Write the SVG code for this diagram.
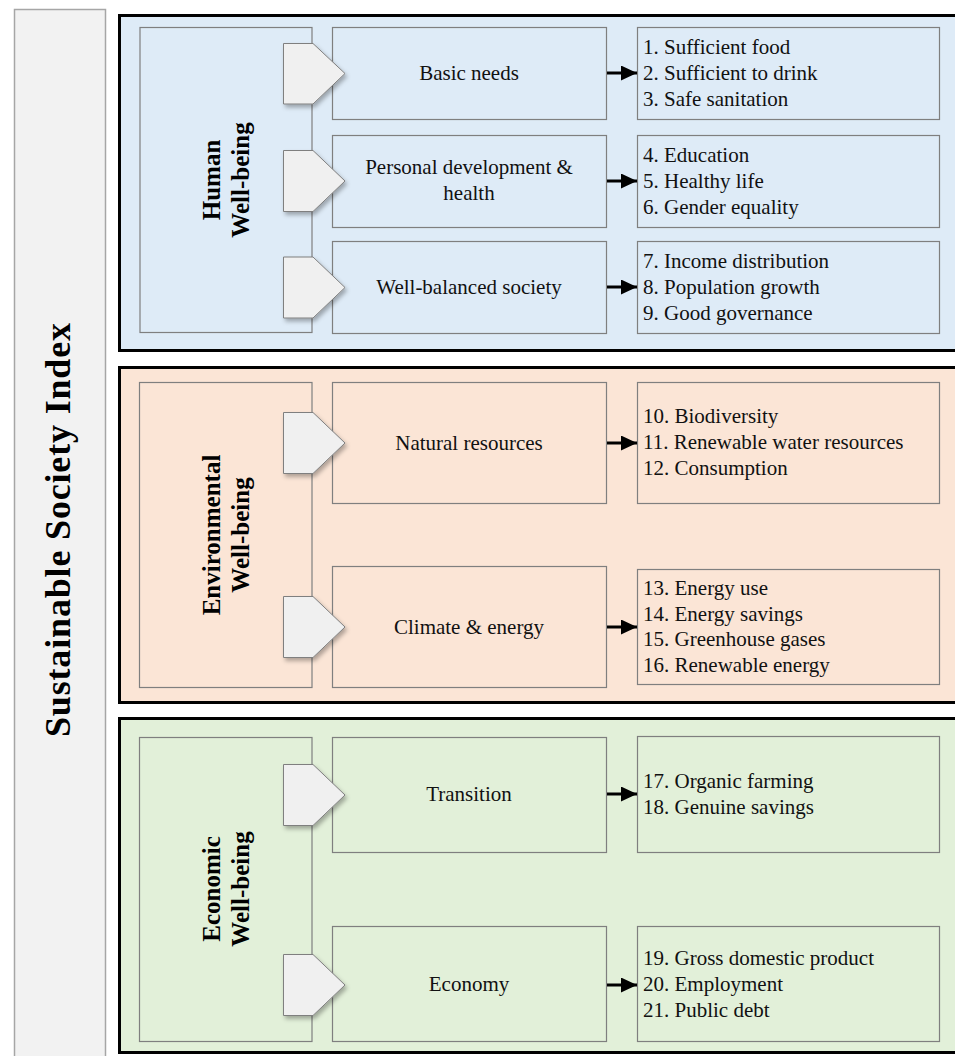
<svg xmlns="http://www.w3.org/2000/svg" width="955" height="1056" viewBox="0 0 955 1056">
<style>
.panel{stroke:#000;stroke-width:3}
.blue{fill:#deebf7}
.orange{fill:#fbe5d6}
.green{fill:#e2f0d9}
.box{fill:none;stroke:#7f7f7f;stroke-width:1.2}
.pent{fill:#f0f0f0;stroke:#7f7f7f;stroke-width:1;filter:url(#sh)}
.t{font-family:"Liberation Serif","Times New Roman",serif;font-size:21px;fill:#111}
.c{text-anchor:middle}
.b{font-family:"Liberation Serif","Times New Roman",serif;font-weight:bold;font-size:25px;fill:#000;text-anchor:middle}
.conn{stroke:#000;stroke-width:3;fill:none}
</style>
<defs>
<filter id="sh" x="-20%" y="-20%" width="150%" height="150%">
<feDropShadow dx="2" dy="3" stdDeviation="2" flood-color="#000" flood-opacity="0.3"/>
</filter>
<marker id="ah" markerUnits="userSpaceOnUse" markerWidth="16" markerHeight="15" refX="16" refY="7.5" orient="auto">
<path d="M0,0 L16,7.5 L0,15 Z" fill="#000"/>
</marker>
</defs>
<rect width="955" height="1056" fill="#fff"/>

<g id="ssi">
<rect x="14.5" y="9.5" width="91" height="1060" fill="#f2f2f2" stroke="#a6a6a6" stroke-width="1.5"/>
<text class="b" style="font-size:36px" textLength="414" lengthAdjust="spacing" transform="translate(70,530) rotate(-90)">Sustainable Society Index</text>
</g>

<g id="panel-human">
<rect class="panel blue" x="119.5" y="15.5" width="860" height="335"/>
</g>
<g id="panel-env">
<rect class="panel orange" x="119.5" y="367.5" width="860" height="335"/>
</g>
<g id="panel-econ">
<rect class="panel green" x="119.5" y="718.5" width="860" height="334"/>
</g>

<g id="cat-human">
<rect class="box" x="140" y="27.5" width="172" height="305"/>
<text class="b" transform="translate(220,180) rotate(-90)">Human</text>
<text class="b" transform="translate(249,180) rotate(-90)">Well-being</text>
</g>
<g id="cat-env">
<rect class="box" x="139.5" y="382.5" width="172.5" height="305"/>
<text class="b" transform="translate(220,535) rotate(-90)">Environmental</text>
<text class="b" transform="translate(249,535) rotate(-90)">Well-being</text>
</g>
<g id="cat-econ">
<rect class="box" x="139.5" y="737.5" width="172.5" height="304"/>
<text class="b" transform="translate(220,889) rotate(-90)">Economic</text>
<text class="b" transform="translate(249,889) rotate(-90)">Well-being</text>
</g>

<g id="sub-basic">
<rect class="box" x="332.5" y="27.5" width="274" height="92"/>
<text class="t c" x="469" y="80">Basic needs</text>
</g>
<g id="sub-personal">
<rect class="box" x="332.5" y="135.5" width="274" height="92"/>
<text class="t c" x="469" y="174">Personal development &amp;</text>
<text class="t c" x="469" y="200">health</text>
</g>
<g id="sub-society">
<rect class="box" x="332.5" y="241.5" width="274" height="92"/>
<text class="t c" x="469" y="294">Well-balanced society</text>
</g>
<g id="sub-natural">
<rect class="box" x="332.5" y="382.5" width="274" height="121"/>
<text class="t c" x="469" y="450">Natural resources</text>
</g>
<g id="sub-climate">
<rect class="box" x="332.5" y="566.5" width="274" height="121"/>
<text class="t c" x="469" y="634">Climate &amp; energy</text>
</g>
<g id="sub-transition">
<rect class="box" x="332.5" y="737.5" width="274" height="115"/>
<text class="t c" x="469" y="801">Transition</text>
</g>
<g id="sub-economy">
<rect class="box" x="332.5" y="926.5" width="274" height="115"/>
<text class="t c" x="469" y="991">Economy</text>
</g>

<g id="ind-1-3">
<rect class="box" x="637.5" y="27.5" width="302" height="92"/>
<text class="t" x="643" y="54">1. Sufficient food</text>
<text class="t" x="643" y="80">2. Sufficient to drink</text>
<text class="t" x="643" y="106">3. Safe sanitation</text>
</g>
<g id="ind-4-6">
<rect class="box" x="637.5" y="135.5" width="302" height="92"/>
<text class="t" x="643" y="162">4. Education</text>
<text class="t" x="643" y="188">5. Healthy life</text>
<text class="t" x="643" y="214">6. Gender equality</text>
</g>
<g id="ind-7-9">
<rect class="box" x="637.5" y="241.5" width="302" height="92"/>
<text class="t" x="643" y="268">7. Income distribution</text>
<text class="t" x="643" y="294">8. Population growth</text>
<text class="t" x="643" y="320">9. Good governance</text>
</g>
<g id="ind-10-12">
<rect class="box" x="637.5" y="382.5" width="302" height="121"/>
<text class="t" x="643" y="423">10. Biodiversity</text>
<text class="t" x="643" y="449">11. Renewable water resources</text>
<text class="t" x="643" y="475">12. Consumption</text>
</g>
<g id="ind-13-16">
<rect class="box" x="637.5" y="569.5" width="302" height="115"/>
<text class="t" x="643" y="595">13. Energy use</text>
<text class="t" x="643" y="621">14. Energy savings</text>
<text class="t" x="643" y="646">15. Greenhouse gases</text>
<text class="t" x="643" y="672">16. Renewable energy</text>
</g>
<g id="ind-17-18">
<rect class="box" x="637.5" y="736.5" width="302" height="116"/>
<text class="t" x="643" y="788">17. Organic farming</text>
<text class="t" x="643" y="814">18. Genuine savings</text>
</g>
<g id="ind-19-21">
<rect class="box" x="637.5" y="926.5" width="302" height="115"/>
<text class="t" x="643" y="965">19. Gross domestic product</text>
<text class="t" x="643" y="991">20. Employment</text>
<text class="t" x="643" y="1017">21. Public debt</text>
</g>

<g id="links">
<polygon class="pent" points="283.5,43.5 313,43.5 345,73.5 313,104 283.5,104"/>
<polygon class="pent" points="283.5,150.5 313,150.5 345,181 313,211.5 283.5,211.5"/>
<polygon class="pent" points="283.5,257 313,257 345,287.5 313,318 283.5,318"/>
<polygon class="pent" points="283.5,412.5 313,412.5 345,443 313,473.5 283.5,473.5"/>
<polygon class="pent" points="283.5,596.5 313,596.5 345,627 313,657.5 283.5,657.5"/>
<polygon class="pent" points="283.5,764.5 313,764.5 345,795 313,825.5 283.5,825.5"/>
<polygon class="pent" points="283.5,954.5 313,954.5 345,985 313,1015.5 283.5,1015.5"/>
</g>

<g id="connectors">
<line class="conn" x1="607" y1="73" x2="637" y2="73" marker-end="url(#ah)"/>
<line class="conn" x1="607" y1="181" x2="637" y2="181" marker-end="url(#ah)"/>
<line class="conn" x1="607" y1="287" x2="637" y2="287" marker-end="url(#ah)"/>
<line class="conn" x1="607" y1="443" x2="637" y2="443" marker-end="url(#ah)"/>
<line class="conn" x1="607" y1="627" x2="637" y2="627" marker-end="url(#ah)"/>
<line class="conn" x1="607" y1="794" x2="637" y2="794" marker-end="url(#ah)"/>
<line class="conn" x1="607" y1="985" x2="637" y2="985" marker-end="url(#ah)"/>
</g>
</svg>
